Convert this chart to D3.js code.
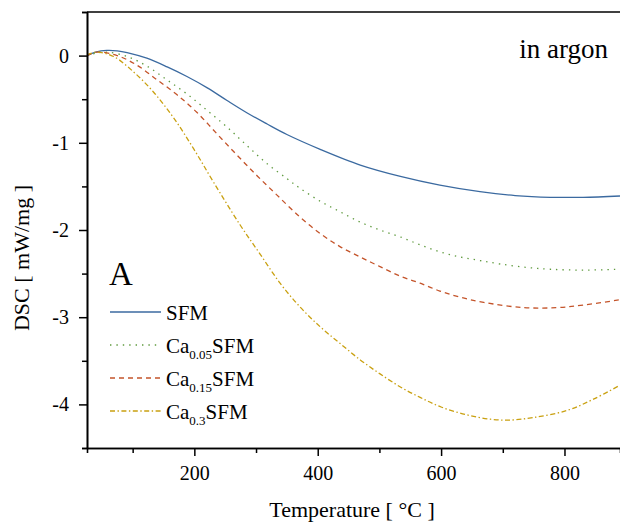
<!DOCTYPE html>
<html><head><meta charset="utf-8">
<script src="https://cdn.jsdelivr.net/npm/d3@7"></script>
<style>body{margin:0;background:#fff}svg{display:block}svg text{font-family:'Liberation Serif','DejaVu Serif','Times New Roman',serif !important}</style>
</head><body><svg id="c" width="620" height="524"></svg>
<script>
const xTicks=[200,400,600,800];
const yTicks=[0,-1,-2,-3,-4];
const seriesNames=["SFM","Ca0.05SFM","Ca0.15SFM","Ca0.3SFM"];
const sfm=[[26,0.0],[40,0.04],[58,0.06],[75,0.055],[91,0.035],[123,-0.03],[156,-0.13],[188,-0.24],[221,-0.37],[253,-0.515],[285,-0.655],[318,-0.785],[350,-0.905],[404,-1.075],[469,-1.255],[534,-1.385],[598,-1.485],[663,-1.56],[720,-1.605],[777,-1.625],[830,-1.625],[890,-1.61]];
const ca005=[[26,0.0],[42,0.03],[58,0.04],[91,-0.01],[123,-0.12],[156,-0.28],[188,-0.44],[221,-0.63],[253,-0.82],[285,-1.03],[318,-1.24],[350,-1.41],[371,-1.52],[404,-1.67],[436,-1.79],[469,-1.91],[501,-2.00],[534,-2.08],[566,-2.17],[598,-2.25],[631,-2.31],[663,-2.35],[696,-2.39],[740,-2.43],[777,-2.45],[830,-2.46],[890,-2.45]];
const ca015=[[26,0.0],[42,0.04],[75,0.0],[107,-0.11],[140,-0.28],[172,-0.45],[204,-0.65],[237,-0.90],[269,-1.14],[302,-1.38],[334,-1.60],[371,-1.85],[404,-2.04],[436,-2.19],[469,-2.31],[501,-2.42],[534,-2.53],[566,-2.61],[598,-2.70],[631,-2.77],[669,-2.83],[734,-2.89],[788,-2.89],[831,-2.86],[890,-2.80]];
const ca03=[[26,0.01],[42,0.04],[69,-0.01],[102,-0.19],[134,-0.42],[167,-0.72],[199,-1.07],[231,-1.45],[274,-1.94],[306,-2.27],[339,-2.61],[371,-2.88],[404,-3.11],[436,-3.30],[469,-3.49],[501,-3.65],[534,-3.80],[566,-3.92],[600,-4.03],[642,-4.12],[680,-4.17],[712,-4.18],[750,-4.15],[804,-4.07],[847,-3.94],[890,-3.78]];

const FONT="'Liberation Serif','DejaVu Serif','Times New Roman',serif";
const svg=d3.select("#c").attr("font-family",FONT);
const L=87,R=620,T=12,B=448;
const x=d3.scaleLinear().domain([26,890]).range([L,R]);
const y=d3.scaleLinear().domain([-4.5,0.5]).range([B,T]);

const series=[
 {data:sfm,color:"#3b6aa0",dash:null,label:"SFM",sub:null},
 {data:ca005,color:"#5f9a3e",dash:"1.4,5",label:"Ca",sub:"0.05"},
 {data:ca015,color:"#c4542a",dash:"5,4",label:"Ca",sub:"0.15"},
 {data:ca03,color:"#c9a010",dash:"5,2.5,1.4,2.5",label:"Ca",sub:"0.3"}
];
const line=d3.line().x(d=>x(d[0])).y(d=>y(d[1])).curve(d3.curveCatmullRom.alpha(0.5));
svg.append("defs").append("clipPath").attr("id","clip").append("rect").attr("x",L).attr("y",T).attr("width",R-L).attr("height",B-T);
const g=svg.append("g").attr("clip-path","url(#clip)");
series.forEach(s=>{
  g.append("path").attr("d",line(s.data)).attr("fill","none").attr("stroke",s.color).attr("stroke-width",1.3)
   .attr("stroke-dasharray",s.dash);
});

const xAx=svg.append("g").attr("transform",`translate(0,${B})`);
xAx.call(d3.axisBottom(x).tickValues(xTicks).tickSize(8).tickSizeOuter(0).tickFormat(d3.format("d")));
xAx.append("g").call(d3.axisBottom(x).tickValues([100,300,500,700]).tickSize(5).tickFormat(""));
const yAx=svg.append("g").attr("transform",`translate(${L},0)`);
yAx.call(d3.axisLeft(y).tickValues(yTicks).tickSize(8).tickSizeOuter(0).tickFormat(d=>d===0?"0":"-"+Math.abs(d)));
yAx.append("g").call(d3.axisLeft(y).tickValues([0.5,-0.5,-1.5,-2.5,-3.5,-4.5]).tickSize(5).tickFormat(""));
svg.selectAll("g").attr("font-family",FONT);
svg.selectAll(".domain").attr("stroke","#000").attr("stroke-width",1.6);
svg.selectAll(".tick line").attr("stroke","#000").attr("stroke-width",1.5);
xAx.selectAll(".tick text").attr("font-size",20).attr("fill","#000").attr("dy","1.05em");
yAx.selectAll(".tick text").attr("font-size",20).attr("fill","#000").attr("dx","-0.35em");
svg.append("line").attr("x1",L).attr("x2",R).attr("y1",T).attr("y2",T).attr("stroke","#000").attr("stroke-width",1.6);

svg.append("text").attr("x",352).attr("y",517).attr("text-anchor","middle").attr("font-size",22).text("Temperature [ °C ]");
svg.append("text").attr("transform","translate(29,258) rotate(-90)").attr("text-anchor","middle").attr("font-size",22).text("DSC [ mW/mg ]");
svg.append("text").attr("x",608).attr("y",58).attr("text-anchor","end").attr("font-size",27).text("in argon");
svg.append("text").attr("x",109).attr("y",285).attr("font-size",33).text("A");

const lg=svg.append("g");
series.forEach((s,i)=>{
  const yy=312+i*33;
  lg.append("line").attr("x1",110).attr("x2",161).attr("y1",yy).attr("y2",yy).attr("stroke",s.color).attr("stroke-width",1.3).attr("stroke-dasharray",s.dash);
  const t=lg.append("text").attr("x",166).attr("y",yy+8).attr("font-size",21);
  t.append("tspan").text(s.label);
  if(s.sub){
    t.append("tspan").attr("font-size",13).attr("dy",6).text(s.sub);
    t.append("tspan").attr("dy",-6).text("SFM");
  }
});
</script></body></html>
